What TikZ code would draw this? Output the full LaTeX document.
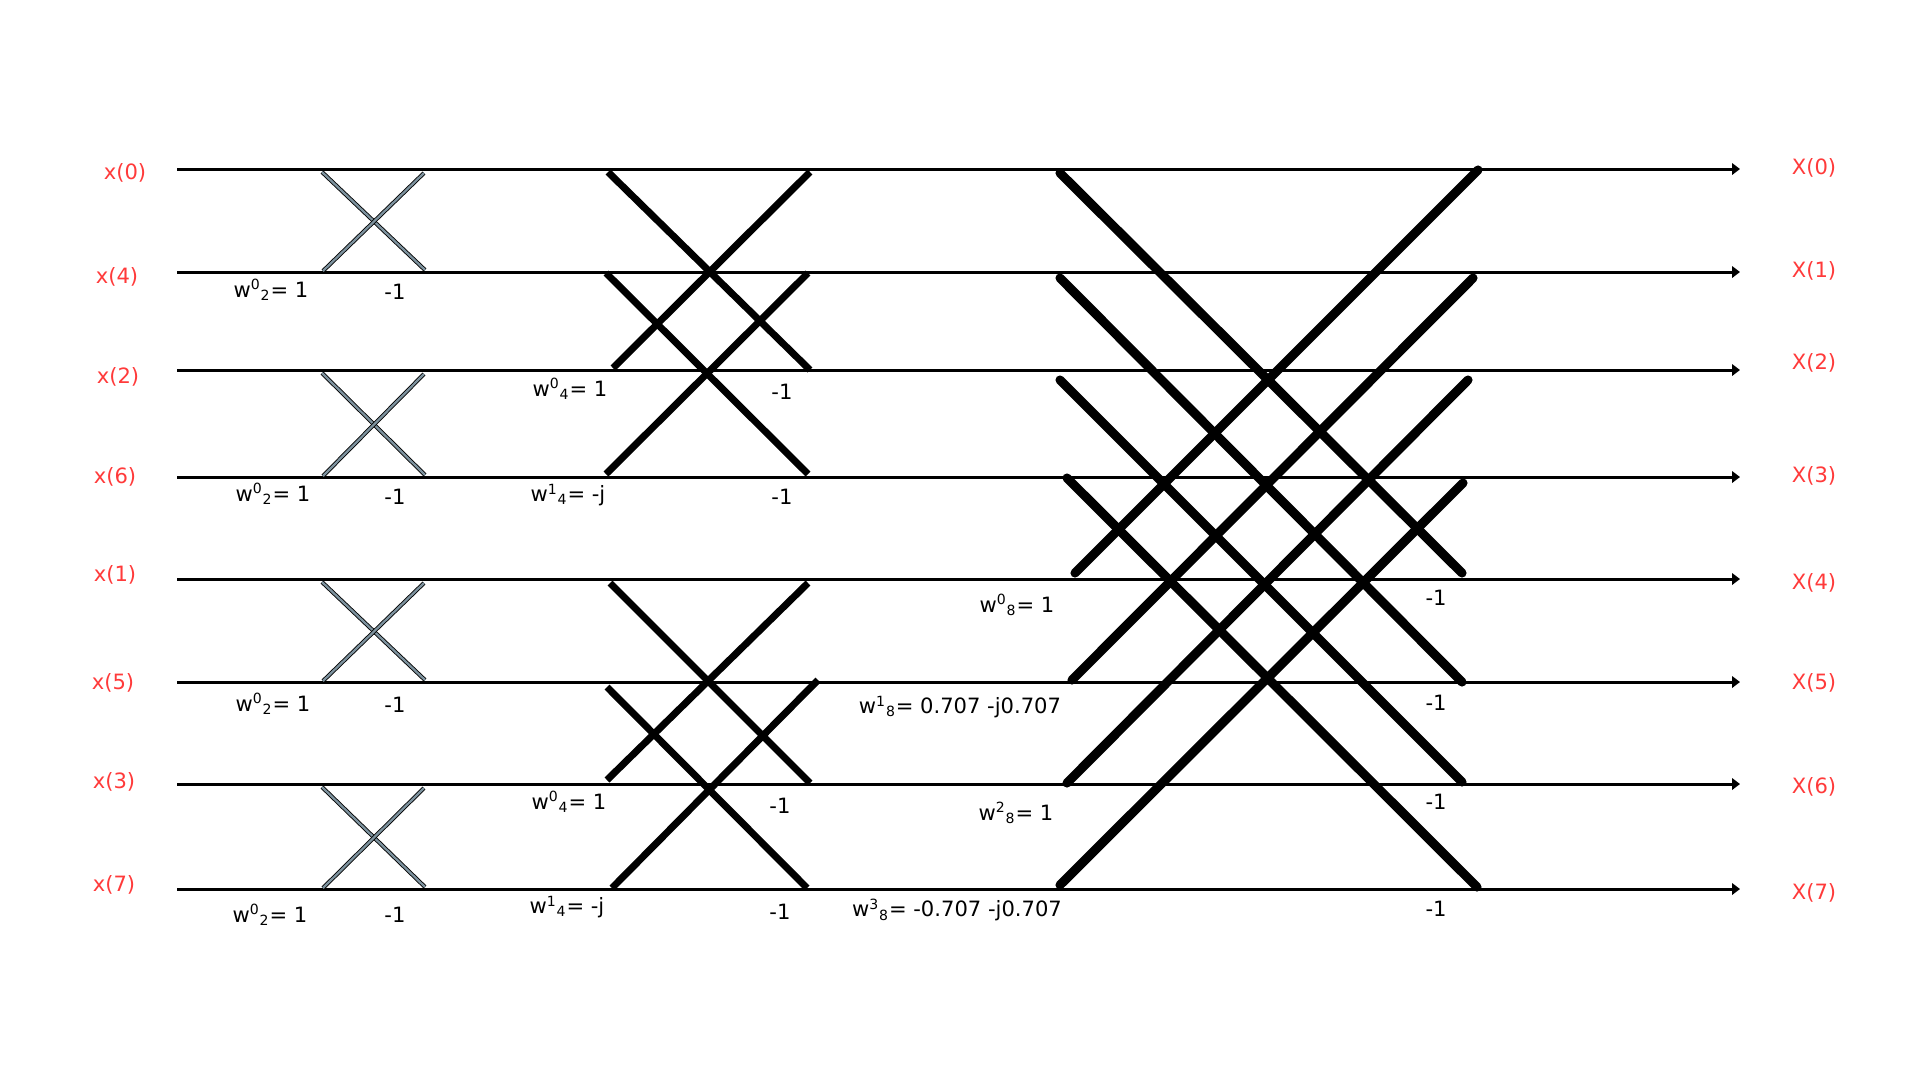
\documentclass[tikz,border=0pt]{standalone}
\usepackage{fontspec}
\setmainfont{DejaVu Sans}
\usetikzlibrary{arrows.meta}
\definecolor{labelred}{RGB}{255,58,58}
\definecolor{crossgray}{RGB}{125,146,158}

\begin{document}
\begin{tikzpicture}[
    x=0.02cm, y=-0.02cm,
    every node/.style={font=\fontsize{12}{14}\selectfont, inner sep=0pt},
    inlabel/.style={text=labelred},
    signal/.style={
        -{Triangle[length=4.5pt, width=6.5pt]},
        line width=1.7pt
    },
    bfone/.style={
        draw=black,
        line width=0.5pt,
        double=crossgray,
        double distance=1.3pt
    },
    bftwo/.style={line width=4pt},
    bfthree/.style={line width=5.2pt, line cap=round}
]

\useasboundingbox (0,0) rectangle (1920,1080);

% signal lines, inputs in bit-reversed order
\foreach \r/\y/\xin/\yin/\nin/\yout/\nout in {
    0/169/125/173/0/168/0, 1/272/117/277/4/271/1,
    2/370/118/377/2/363/2, 3/477/115/477/6/476/3,
    4/579/115/575/1/583/4, 5/682/113/683/5/683/5,
    6/784/114/782/3/787/6, 7/889/114/885/7/893/7} {
    \coordinate (s\r) at (177,\y);
    \coordinate (e\r) at (1740,\y);
    \node[inlabel] (xin\r) at (\xin,\yin) {x(\nin)};
    \node[inlabel] (xout\r) at (1814,\yout) {X(\nout)};
    \draw[signal] (s\r) -- (e\r);
}

% stage 1: 2-point butterflies
\foreach \k/\ya/\yb in {0/169/272, 1/370/477, 2/579/682, 3/784/889} {
    \coordinate (a\k tl) at (322,\ya+3);
    \coordinate (a\k tr) at (424,\ya+4);
    \coordinate (a\k bl) at (323,\yb-1);
    \coordinate (a\k br) at (425,\yb-2);
    \draw[bfone] (a\k tl) -- (a\k br);
    \draw[bfone] (a\k bl) -- (a\k tr);
}

\node (w2a) at (271,290) {w\textsuperscript{0}\textsubscript{2}= 1};
\node (m2a) at (395,292) {-1};
\node (w2b) at (273,494) {w\textsuperscript{0}\textsubscript{2}= 1};
\node (m2b) at (395,497) {-1};
\node (w2c) at (273,704) {w\textsuperscript{0}\textsubscript{2}= 1};
\node (m2c) at (395,705) {-1};
\node (w2d) at (270,915) {w\textsuperscript{0}\textsubscript{2}= 1};
\node (m2d) at (395,915) {-1};

% stage 2: 4-point butterflies
\coordinate (b0) at (608,172);  \coordinate (b1) at (810,370);
\coordinate (b2) at (810,172);  \coordinate (b3) at (613,368);
\coordinate (b4) at (606,273);  \coordinate (b5) at (808,474);
\coordinate (b6) at (808,273);  \coordinate (b7) at (606,474);
\coordinate (c0) at (610,583);  \coordinate (c1) at (810,783);
\coordinate (c2) at (808,583);  \coordinate (c3) at (607,780);
\coordinate (c4) at (607,687);  \coordinate (c5) at (807,888);
\coordinate (c6) at (818,680);  \coordinate (c7) at (612,888);

\draw[bftwo] (b0) -- (b1);
\draw[bftwo] (b2) -- (b3);
\draw[bftwo] (b4) -- (b5);
\draw[bftwo] (b6) -- (b7);
\draw[bftwo] (c0) -- (c1);
\draw[bftwo] (c2) -- (c3);
\draw[bftwo] (c4) -- (c5);
\draw[bftwo] (c6) -- (c7);

\node (w4a) at (570,389) {w\textsuperscript{0}\textsubscript{4}= 1};
\node (m4a) at (782,392) {-1};
\node (w4b) at (568,495) {w\textsuperscript{1}\textsubscript{4}= -j};
\node (m4b) at (782,497) {-1};
\node (w4c) at (569,802) {w\textsuperscript{0}\textsubscript{4}= 1};
\node (m4c) at (780,806) {-1};
\node (w4d) at (567,907) {w\textsuperscript{1}\textsubscript{4}= -j};
\node (m4d) at (780,912) {-1};

% stage 3: 8-point butterfly
\coordinate (d0) at (1060,173); \coordinate (d1) at (1462,573);
\coordinate (d2) at (1060,278); \coordinate (d3) at (1462,682);
\coordinate (d4) at (1060,380); \coordinate (d5) at (1462,782);
\coordinate (d6) at (1067,478); \coordinate (d7) at (1477,887);
\coordinate (u0) at (1075,573); \coordinate (u1) at (1478,170);
\coordinate (u2) at (1072,680); \coordinate (u3) at (1473,278);
\coordinate (u4) at (1067,783); \coordinate (u5) at (1468,380);
\coordinate (u6) at (1060,885); \coordinate (u7) at (1463,483);

\draw[bfthree] (d0) -- (d1);
\draw[bfthree] (d2) -- (d3);
\draw[bfthree] (d4) -- (d5);
\draw[bfthree] (d6) -- (d7);
\draw[bfthree] (u0) -- (u1);
\draw[bfthree] (u2) -- (u3);
\draw[bfthree] (u4) -- (u5);
\draw[bfthree] (u6) -- (u7);

\node (w8a) at (1017,605) {w\textsuperscript{0}\textsubscript{8}= 1};
\node (w8b) at (960,707) {w\textsuperscript{1}\textsubscript{8}= 0.707 -j0.707};
\node (w8c) at (1016,813) {w\textsuperscript{2}\textsubscript{8}= 1};
\node (w8d) at (957,910) {w\textsuperscript{3}\textsubscript{8}= -0.707 -j0.707};
\node (m8a) at (1436,598) {-1};
\node (m8b) at (1436,703) {-1};
\node (m8c) at (1436,802) {-1};
\node (m8d) at (1436,909) {-1};

\end{tikzpicture}
\end{document}
